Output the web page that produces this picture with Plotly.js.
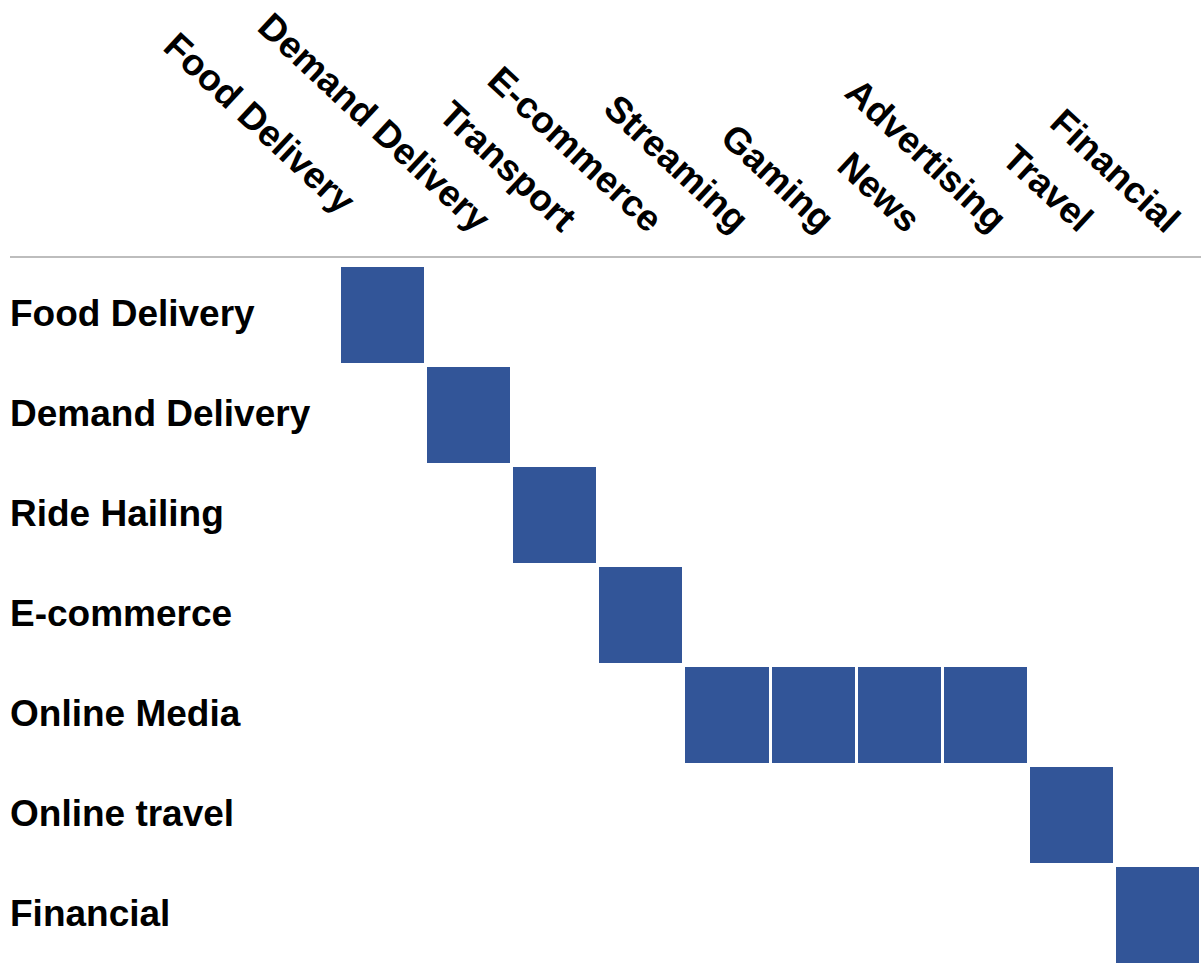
<!DOCTYPE html>
<html>
<head>
<meta charset="utf-8">
<script src="https://cdn.plot.ly/plotly-3.0.1.min.js"></script>
<style>
  html, body { margin: 0; padding: 0; background: #ffffff; }
  #chart { width: 1201px; height: 965px; }
</style>
</head>
<body>
<div id="chart"></div>
<script>
// Column categories (top labels)
var columnLabels = ["Food Delivery", "Demand Delivery", "Transport", "E-commerce", "Streaming",
                    "Gaming", "News", "Advertising", "Travel", "Financial"];
// Row categories (left labels)
var rowLabels = ["Food Delivery", "Demand Delivery", "Ride Hailing", "E-commerce",
                 "Online Media", "Online travel", "Financial"];
// Membership matrix: 1 = filled cell, null = empty
var coverage = [
  [1, null, null, null, null, null, null, null, null, null],
  [null, 1, null, null, null, null, null, null, null, null],
  [null, null, 1, null, null, null, null, null, null, null],
  [null, null, null, 1, null, null, null, null, null, null],
  [null, null, null, null, 1, 1, 1, 1, null, null],
  [null, null, null, null, null, null, null, null, 1, null],
  [null, null, null, null, null, null, null, null, null, 1]
];

var cellColor = "#325598";
var labelFont = { family: "Liberation Sans, Arial, sans-serif", size: 37, color: "#000000", weight: 700 };

var trace = {
  type: "heatmap",
  x: columnLabels.map(function (c, i) { return i; }),
  y: rowLabels.map(function (r, i) { return i; }),
  z: coverage,
  zmin: 0, zmax: 1,
  colorscale: [[0, cellColor], [1, cellColor]],
  showscale: false,
  xgap: 3,
  ygap: 4,
  hoverinfo: "skip"
};

var plotH = 700;
var annotations = [];

// Row labels, left aligned at the paper's left edge
rowLabels.forEach(function (r, i) {
  annotations.push({
    xref: "paper", yref: "y",
    x: 0, y: i,
    xanchor: "left", yanchor: "middle",
    xshift: -2, yshift: 2,
    text: r, showarrow: false,
    font: labelFont
  });
});

// Rotated column labels above the grid
columnLabels.forEach(function (c, i) {
  var xs = 32, ys = -8;
  if (i === 0) { xs = -17; ys = 10; }
  annotations.push({
    xref: "x", yref: "paper",
    x: i, y: (965 - 235) / plotH,
    xanchor: "right", yanchor: "bottom",
    xshift: xs, yshift: ys,
    textangle: 43,
    text: c, showarrow: false,
    font: labelFont
  });
});

var layout = {
  width: 1201, height: 965,
  margin: { l: 10, r: 0, t: 265, b: 0, pad: 0 },
  paper_bgcolor: "#ffffff",
  plot_bgcolor: "#ffffff",
  xaxis: {
    domain: [330 / 1191, 1],
    range: [-0.5, columnLabels.length - 0.5],
    showticklabels: false, showgrid: false, zeroline: false, showline: false, ticks: "",
    fixedrange: true
  },
  yaxis: {
    range: [rowLabels.length - 0.5, -0.5],
    showticklabels: false, showgrid: false, zeroline: false, showline: false, ticks: "",
    fixedrange: true
  },
  shapes: [{
    type: "line", xref: "paper", yref: "paper",
    x0: 0, x1: 1, y0: 1 + 8 / plotH, y1: 1 + 8 / plotH,
    line: { color: "#bdbdbd", width: 2 }
  }],
  annotations: annotations,
  showlegend: false
};

Plotly.newPlot("chart", [trace], layout, { staticPlot: true, displayModeBar: false });
</script>
</body>
</html>
